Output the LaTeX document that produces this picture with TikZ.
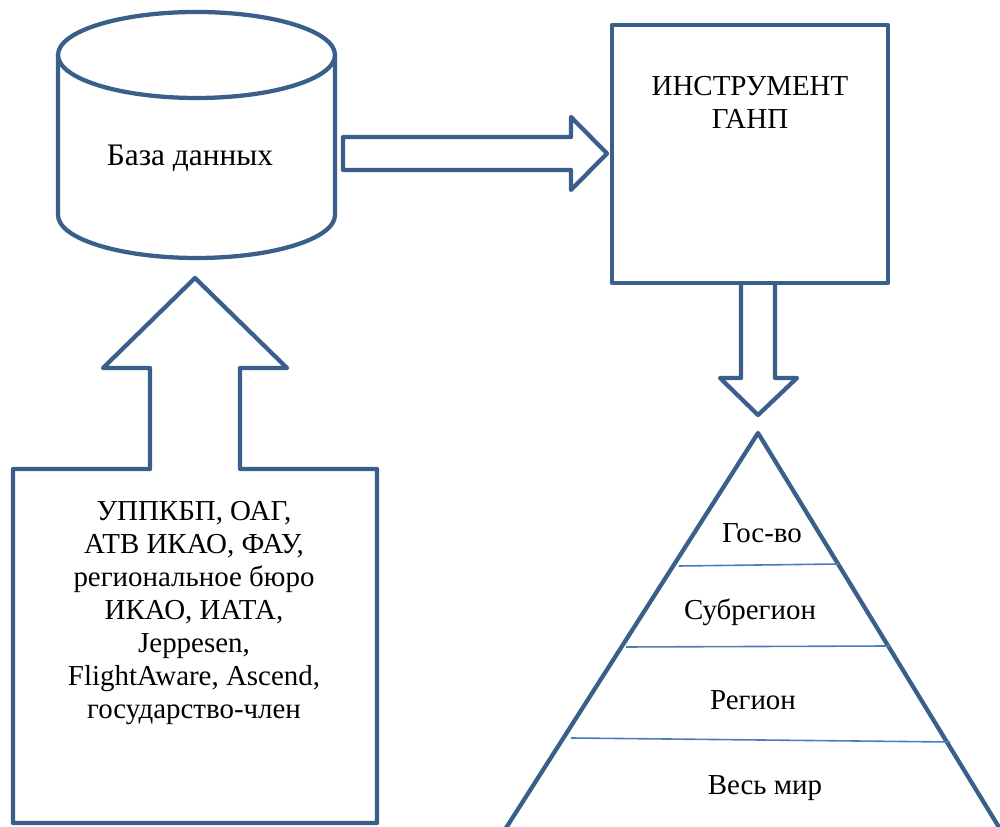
\documentclass[tikz,border=0pt]{standalone}
\usepackage{fontspec}
\setmainfont{Liberation Serif}
\usepackage{tikz}
\usetikzlibrary{positioning}
\definecolor{frameblue}{HTML}{3A5F8B}
\definecolor{lineblue}{HTML}{4A7EBB}

\begin{document}
\begin{tikzpicture}[x=0.75pt, y=0.75pt,
    frame/.style={draw=frameblue, line width=3.2pt, line join=round},
    level/.style={draw=lineblue, line width=1.2pt},
    txt/.style={font=\fontsize{21.7}{24.8}\selectfont, align=center, inner sep=0pt}]
\clip (0,0) rectangle (1000,827);
\draw[frame] (196.5,772) ellipse [x radius=138.5, y radius=43];
\draw[frame] (58,772) -- (58,612) arc[start angle=180, end angle=360, x radius=138.5, y radius=43] -- (335,772);
\node[txt, font=\fontsize{23.5}{26}\selectfont] (db) at (190,669) {База данных};
\draw[frame] (343,690) -- (571,690) -- (571,710) -- (607,673.5) -- (571,637) -- (571,657) -- (343,657) -- cycle;
\draw[frame] (612,544) rectangle (888,802);
\node[txt] (tool) at (750,725) {ИНСТРУМЕНТ\\ГАНП};
\draw[frame] (741,544) -- (741,449) -- (720,449) -- (758,412) -- (797,449) -- (775,449) -- (775,544);
\draw[frame] (13,358) -- (150,358) -- (150,459) -- (103,459) -- (195,549) -- (287,459) -- (240,459)
    -- (240,358) -- (377,358) -- (377,4) -- (13,4) -- cycle;
\node[txt] (src) at (194,214) {УППКБП, ОАГ,\\АТВ ИКАО, ФАУ,\\региональное бюро\\ИКАО, ИАТА,\\Jeppesen,\\FlightAware, Ascend,\\государство-член};
\draw[frame] (485.6,-33) -- (758,394) -- (1019,-33);
\draw[level] (679,261) -- (839,263);
\draw[level] (626,180) -- (890,181);
\draw[level] (571,89) -- (950,85);
\node[txt] (state) at (762,294) {Гос-во};
\node[txt] (subreg) at (750,215) {Субрегион};
\node[txt] (reg) at (753,127) {Регион};
\node[txt] (world) at (765,39) {Весь мир};
\end{tikzpicture}
\end{document}
